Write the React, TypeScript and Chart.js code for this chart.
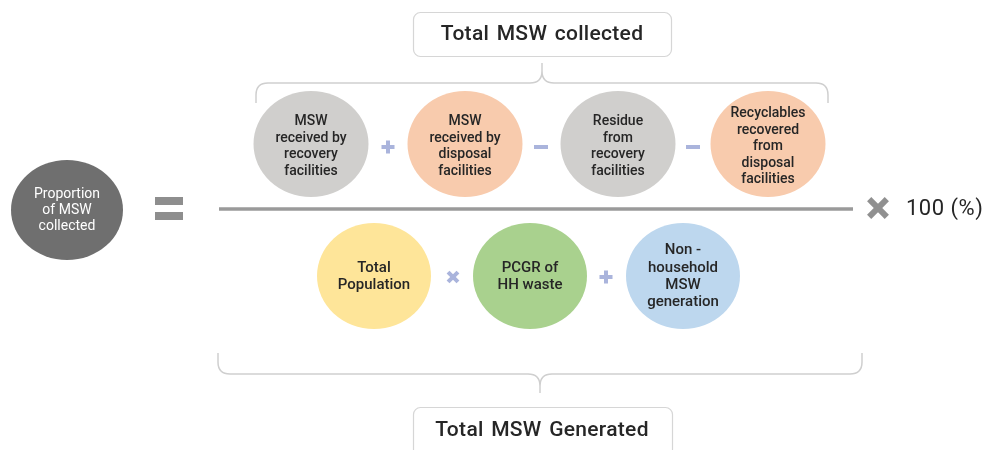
import React, { useEffect, useRef } from 'react';
import { Chart, registerables } from 'chart.js';
Chart.register(...registerables);

// ---------------- data ----------------
const resultLabel = ['Proportion', 'of MSW', 'collected'];
const numeratorTerms = [
  ['MSW', 'received by', 'recovery', 'facilities'],
  ['MSW', 'received by', 'disposal', 'facilities'],
  ['Residue', 'from', 'recovery', 'facilities'],
  ['Recyclables', 'recovered', 'from', 'disposal', 'facilities'],
];
const numeratorOps = ['+', '-', '-'];
const denominatorTerms = [
  ['Total', 'Population'],
  ['PCGR of', 'HH waste'],
  ['Non -', 'household', 'MSW', 'generation'],
];
const denominatorOps = ['x', '+'];
const numeratorTitle = 'Total MSW collected';
const denominatorTitle = 'Total MSW Generated';
const multiplierLabel = '100 (%)';

// ---------------- layout (diagram units, 986 x 450) ----------------
const W = 986;
const H = 450;
const resultPos = { x: 67, y: 210 };
const numX = [311, 465, 618, 768];
const numY = 144;
const numOpX = [388, 541, 693];
const numOpY = 147;
const denX = [374, 530, 683];
const denY = 276;
const denOpX = [453, 606];
const denOpY = 277;

const numColors = ['#d0cfcd', '#f8cbad', '#d0cfcd', '#f8cbad'];
const denColors = ['#fee599', '#a9d18e', '#bdd7ee'];
const opColor = '#aab4dc';
const textColor = '#262626';
const braceColor = '#cfcfcf';

const diagramPlugin = {
  id: 'diagram',
  beforeDatasetsDraw(chart: any) {
    const ctx: CanvasRenderingContext2D = chart.ctx;
    const sx = chart.scales.x;
    const sy = chart.scales.y;
    const px = (v: number) => sx.getPixelForValue(v);
    const py = (v: number) => sy.getPixelForValue(v);
    ctx.save();

    // fraction line
    ctx.strokeStyle = '#9a9a9a';
    ctx.lineWidth = 3.5;
    ctx.beginPath();
    ctx.moveTo(px(219), py(209));
    ctx.lineTo(px(853), py(209));
    ctx.stroke();

    // equal sign
    ctx.fillStyle = '#8e8e8e';
    ctx.fillRect(px(155), py(197), 28, 8);
    ctx.fillRect(px(155), py(212), 28, 8);

    // braces
    const brace = (x0: number, x1: number, yLine: number, cx: number, dir: number, endLen: number, tip: number) => {
      const r = 12;
      ctx.beginPath();
      ctx.moveTo(px(x0), py(yLine - dir * endLen));
      ctx.lineTo(px(x0), py(yLine - dir * r));
      ctx.quadraticCurveTo(px(x0), py(yLine), px(x0 + r), py(yLine));
      ctx.lineTo(px(cx - r), py(yLine));
      ctx.quadraticCurveTo(px(cx), py(yLine), px(cx), py(yLine + dir * r));
      ctx.lineTo(px(cx), py(yLine + dir * tip));
      ctx.moveTo(px(cx), py(yLine + dir * r));
      ctx.quadraticCurveTo(px(cx), py(yLine), px(cx + r), py(yLine));
      ctx.lineTo(px(x1 - r), py(yLine));
      ctx.quadraticCurveTo(px(x1), py(yLine), px(x1), py(yLine - dir * r));
      ctx.lineTo(px(x1), py(yLine - dir * endLen));
      ctx.stroke();
    };
    ctx.strokeStyle = braceColor;
    ctx.lineWidth = 1.5;
    brace(256, 828, 83, 542, -1, 20, 20);
    brace(218, 862, 374, 540, 1, 21, 19);

    // title boxes
    const box = (x0: number, y0: number, x1: number, y1: number) => {
      ctx.beginPath();
      (ctx as any).roundRect(px(x0) + 0.5, py(y0) + 0.5, px(x1) - px(x0), py(y1) - py(y0), 7);
      ctx.fillStyle = '#ffffff';
      ctx.fill();
      ctx.strokeStyle = '#d6d6d6';
      ctx.lineWidth = 1.2;
      ctx.stroke();
    };
    box(413, 12, 671, 56);
    box(413, 407, 672, 456);

    // circles (ellipses) at dataset points
    chart.data.datasets.forEach((ds: any, di: number) => {
      const meta = chart.getDatasetMeta(di);
      meta.data.forEach((el: any, i: number) => {
        ctx.beginPath();
        ctx.ellipse(el.x, el.y, ds.rx, ds.ry, 0, 0, Math.PI * 2);
        ctx.fillStyle = ds.fills[i];
        ctx.fill();
      });
    });

    // operators
    const op = (kind: string, x: number, y: number, color: string, len: number, th: number) => {
      ctx.save();
      ctx.translate(px(x), py(y));
      ctx.fillStyle = color;
      if (kind === 'x') ctx.rotate(Math.PI / 4);
      ctx.fillRect(-len / 2, -th / 2, len, th);
      if (kind !== '-') ctx.fillRect(-th / 2, -len / 2, th, len);
      ctx.restore();
    };
    numeratorOps.forEach((o, i) => op(o, numOpX[i], numOpY, opColor, o === '-' ? 14 : 13, 4));
    denominatorOps.forEach((o, i) => op(o, denOpX[i], denOpY, opColor, o === 'x' ? 14 : 13, 4));
    op('x', 878, 208, '#909090', 25, 6);

    ctx.restore();
  },
  afterDatasetsDraw(chart: any) {
    const ctx: CanvasRenderingContext2D = chart.ctx;
    const sx = chart.scales.x;
    const sy = chart.scales.y;
    const px = (v: number) => sx.getPixelForValue(v);
    const py = (v: number) => sy.getPixelForValue(v);
    ctx.save();
    ctx.textAlign = 'center';
    ctx.textBaseline = 'middle';

    const block = (lines: string[], x: number, cy: number, lh: number) => {
      const top = cy - ((lines.length - 1) * lh) / 2;
      lines.forEach((l, i) => ctx.fillText(l, px(x), py(top + i * lh)));
    };

    ctx.fillStyle = '#ffffff';
    ctx.font = '400 14px Roboto';
    block(resultLabel, resultPos.x, 210, 16);

    ctx.fillStyle = textColor;
    ctx.font = '500 14px Roboto';
    numeratorTerms.forEach((t, i) => block(t, numX[i], 146.5, 16.5));
    ctx.font = '500 15px Roboto';
    denominatorTerms.forEach((t, i) => block(t, denX[i], 276.5, 17.3));

    ctx.font = '500 21px Roboto';
    (ctx as any).letterSpacing = '0.3px';
    (ctx as any).wordSpacing = '2px';
    ctx.fillText(numeratorTitle, px(542), py(35));
    ctx.fillText(denominatorTitle, px(542), py(431));

    ctx.textAlign = 'left';
    (ctx as any).letterSpacing = '0.5px';
    (ctx as any).wordSpacing = '0px';
    ctx.font = '400 22px Roboto';
    ctx.fillText(multiplierLabel, px(906), py(209));
    ctx.restore();
  },
};

export default function App() {
  const ref = useRef<HTMLCanvasElement | null>(null);
  useEffect(() => {
    document.body.style.margin = '0';
    const canvas = ref.current;
    if (!canvas) return;
    const chart = new Chart(canvas, {
      type: 'scatter',
      data: {
        datasets: [
          { data: [resultPos], rx: 56, ry: 50, fills: ['#6f6f6f'], pointRadius: 0 } as any,
          { data: numX.map((x) => ({ x, y: numY })), rx: 57.5, ry: 53, fills: numColors, pointRadius: 0 } as any,
          { data: denX.map((x) => ({ x, y: denY })), rx: 57, ry: 53, fills: denColors, pointRadius: 0 } as any,
        ],
      },
      options: {
        responsive: false,
        animation: false,
        devicePixelRatio: 1,
        layout: { padding: 0 },
        plugins: { legend: { display: false }, tooltip: { enabled: false } },
        events: [],
        scales: {
          x: { type: 'linear', min: 0, max: W, display: false },
          y: { type: 'linear', min: 0, max: H, reverse: true, display: false },
        },
      },
      plugins: [diagramPlugin],
    });
    return () => chart.destroy();
  }, []);
  return (
    <div style={{ position: 'absolute', left: 0, top: 0, width: W, height: H, background: '#fff' }}>
      <canvas ref={ref} width={W} height={H} style={{ display: 'block' }} />
    </div>
  );
}
